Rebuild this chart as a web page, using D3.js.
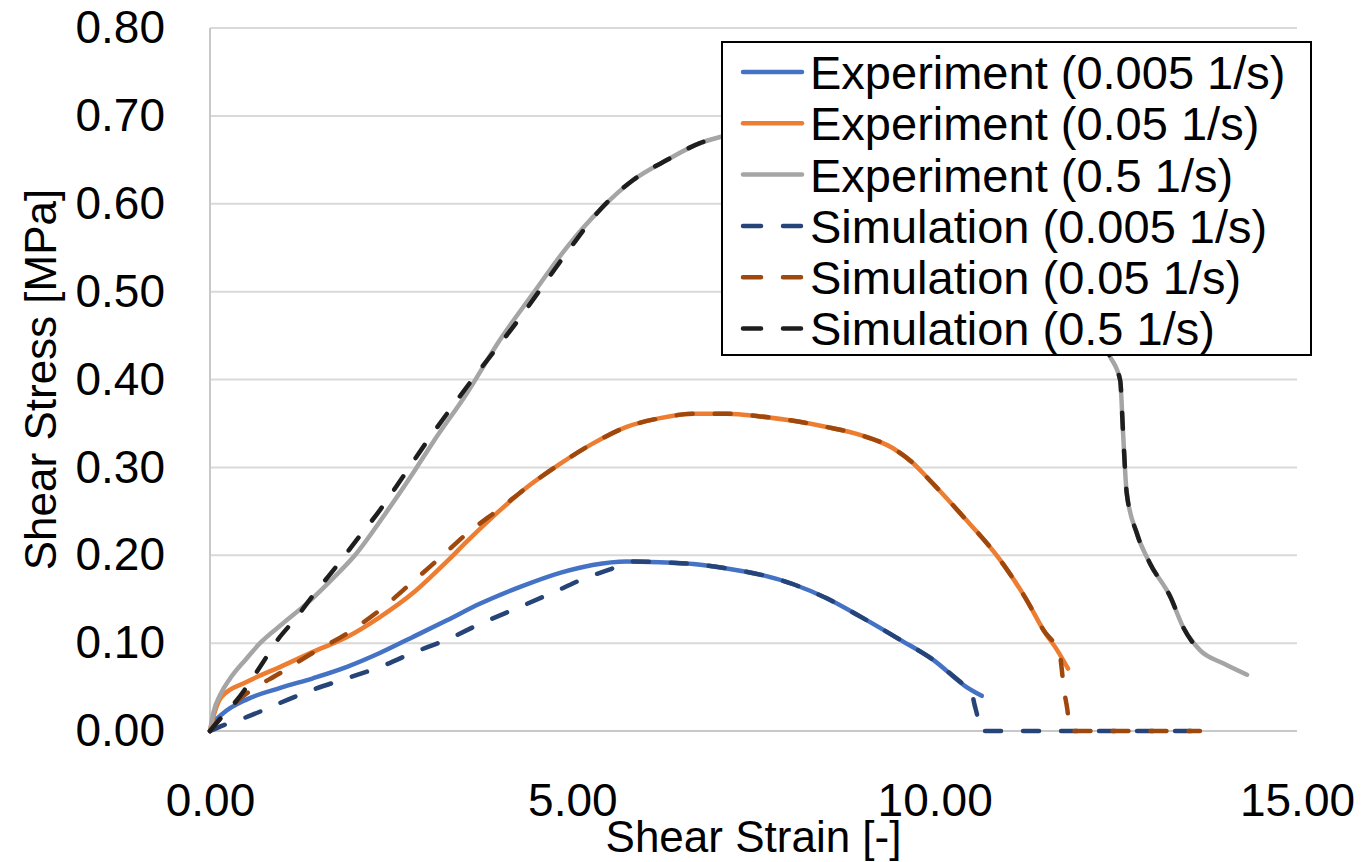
<!DOCTYPE html>
<html>
<head>
<meta charset="utf-8">
<script src="https://cdn.jsdelivr.net/npm/d3@7"></script>
<style>
    body { margin: 0; background: #fff; }
    text { font-family: "Liberation Sans", Arial, sans-serif; fill: #000; }
</style>
</head>
<body>
<div id="chart"></div>
<script>

// Data: [strain, stress]
var expSlow = [[0,0],[0.05,0.009],[0.18,0.020],[0.51,0.036],[0.97,0.049],[1.42,0.060],[1.89,0.073],[2.35,0.089],[2.80,0.107],[3.27,0.126],[3.73,0.145],[4.28,0.164],[4.83,0.180],[5.28,0.189],[5.75,0.193],[6.21,0.192],[6.67,0.190],[7.13,0.185],[7.59,0.178],[8.05,0.167],[8.51,0.151],[9.00,0.129],[9.52,0.104],[9.98,0.081],[10.44,0.050],[10.65,0.040]]
var expMid = [[0,0],[0.06,0.020],[0.16,0.039],[0.51,0.056],[0.97,0.073],[1.42,0.090],[1.89,0.107],[2.35,0.130],[2.80,0.157],[3.08,0.178],[3.27,0.193],[3.55,0.216],[4.00,0.251],[4.40,0.279],[4.83,0.304],[5.28,0.327],[5.75,0.346],[6.21,0.356],[6.67,0.361],[7.13,0.361],[7.59,0.358],[8.05,0.353],[8.51,0.346],[8.97,0.337],[9.42,0.322],[9.70,0.305],[9.89,0.289],[10.35,0.248],[10.90,0.195],[11.27,0.149],[11.50,0.115],[11.69,0.092],[11.84,0.071]]
var expFast = [[0,0],[0.05,0.022],[0.14,0.041],[0.28,0.060],[0.50,0.082],[0.69,0.100],[1.00,0.122],[1.35,0.146],[1.70,0.174],[2.00,0.200],[2.40,0.245],[2.83,0.297],[3.08,0.329],[3.55,0.385],[4.00,0.445],[4.46,0.498],[4.93,0.551],[5.38,0.593],[5.84,0.627],[6.31,0.650],[6.76,0.669],[7.04,0.676],[7.60,0.684],[8.50,0.680],[9.50,0.650],[10.50,0.600],[11.50,0.530],[12.20,0.460],[12.42,0.426],[12.56,0.399],[12.60,0.339],[12.65,0.271],[12.79,0.225],[12.97,0.191],[13.25,0.153],[13.43,0.118],[13.66,0.092],[13.98,0.077],[14.31,0.064]]
var simSlow = [[0,0],[0.20,0.007],[0.51,0.016],[0.97,0.032],[1.42,0.047],[1.89,0.060],[2.35,0.073],[2.80,0.089],[3.27,0.104],[3.73,0.122],[4.30,0.142],[4.80,0.160],[5.15,0.173],[5.52,0.184],[5.85,0.193],[6.21,0.192],[6.67,0.190],[7.13,0.185],[7.59,0.178],[8.05,0.167],[8.51,0.151],[9.00,0.129],[9.52,0.104],[9.98,0.081],[10.40,0.053],[10.50,0.047],[10.55,0.030],[10.60,0.012],[10.62,0],[13.66,0]]
var simMid = [[0,0],[0.28,0.027],[0.51,0.043],[0.97,0.066],[1.42,0.089],[1.89,0.111],[2.35,0.138],[2.80,0.170],[3.20,0.199],[3.55,0.225],[4.00,0.253],[4.40,0.279],[4.83,0.304],[5.28,0.327],[5.75,0.346],[6.21,0.356],[6.67,0.361],[7.13,0.361],[7.59,0.358],[8.05,0.353],[8.51,0.346],[8.97,0.337],[9.42,0.322],[9.70,0.305],[9.89,0.289],[10.35,0.248],[10.90,0.195],[11.27,0.149],[11.50,0.115],[11.73,0.086],[11.75,0.073],[11.78,0.050],[11.83,0.025],[11.87,0],[13.66,0]]
var simFast = [[0,0],[0.10,0.010],[0.37,0.035],[0.73,0.078],[0.90,0.100],[1.20,0.130],[1.42,0.154],[1.75,0.188],[2.03,0.218],[2.35,0.252],[2.66,0.289],[2.99,0.329],[3.35,0.370],[3.63,0.401],[4.24,0.466],[4.93,0.545],[5.38,0.593],[5.84,0.627],[6.31,0.650],[6.76,0.669],[7.04,0.676],[7.60,0.684],[8.50,0.680],[9.50,0.650],[10.50,0.600],[11.50,0.530],[12.20,0.460],[12.42,0.426],[12.56,0.399],[12.60,0.339],[12.65,0.271],[12.79,0.225],[12.97,0.191],[13.25,0.153],[13.43,0.118],[13.62,0.094]]

var seriesNames = ["Experiment (0.005 1/s)", "Experiment (0.05 1/s)", "Experiment (0.5 1/s)",
                   "Simulation (0.005 1/s)", "Simulation (0.05 1/s)", "Simulation (0.5 1/s)"]
var xTicks = [0, 5, 10, 15]
var yTicks = [0, 0.1, 0.2, 0.3, 0.4, 0.5, 0.6, 0.7, 0.8]

function drawChart() {

    const width = 1365
    const height = 862
    const left = 210, right = 1297, top = 28, bottom = 731

    var svg = d3.select("#chart")
        .append("svg")
        .attr("width", width)
        .attr("height", height)

    var x = d3.scaleLinear().domain([0, 15]).range([left, right])
    var y = d3.scaleLinear().domain([0, 0.8]).range([bottom, top])

    // gridlines
    svg.append("g")
        .selectAll("line")
        .data(yTicks.slice(1))
        .enter()
        .append("line")
        .attr("x1", left)
        .attr("x2", right)
        .attr("y1", d => y(d))
        .attr("y2", d => y(d))
        .attr("stroke", "#d9d9d9")
        .attr("stroke-width", 2)

    // axes lines
    svg.append("line")
        .attr("x1", left).attr("x2", left)
        .attr("y1", top).attr("y2", bottom)
        .attr("stroke", "#c8c8c8").attr("stroke-width", 2)
    svg.append("line")
        .attr("x1", left).attr("x2", right)
        .attr("y1", bottom).attr("y2", bottom)
        .attr("stroke", "#c8c8c8").attr("stroke-width", 2)

    // y tick labels
    var yAxis = d3.axisLeft(y).tickValues(yTicks).tickFormat(d3.format(".2f")).tickSize(0).tickPadding(45)
    var gy = svg.append("g")
        .attr("transform", "translate(" + left + ",0)")
        .call(yAxis)
    gy.select(".domain").remove()
    gy.selectAll("text")
        .attr("font-size", 46)
        .attr("font-family", "Liberation Sans, Arial, sans-serif")
        .attr("fill", "#000")

    // x tick labels
    var xAxis = d3.axisBottom(x).tickValues(xTicks).tickFormat(d3.format(".2f")).tickSize(0).tickPadding(52)
    var gx = svg.append("g")
        .attr("transform", "translate(0," + bottom + ")")
        .call(xAxis)
    gx.select(".domain").remove()
    gx.selectAll("text")
        .attr("font-size", 46)
        .attr("font-family", "Liberation Sans, Arial, sans-serif")
        .attr("fill", "#000")

    // series lines
    var line = d3.line()
        .x(d => x(d[0]))
        .y(d => y(d[1]))
        .curve(d3.curveMonotoneX)

    var series = [
        { data: expSlow, color: "#4472C4", dash: null },
        { data: expMid, color: "#ED7D31", dash: null },
        { data: expFast, color: "#A5A5A5", dash: null },
        { data: simSlow, color: "#264478", dash: "16 22" },
        { data: simMid, color: "#9E480E", dash: "16 22" },
        { data: simFast, color: "#1e1e1e", dash: "16 22" }
    ]

    series.forEach(function (s) {
        svg.append("path")
            .datum(s.data)
            .attr("d", line)
            .attr("fill", "none")
            .attr("stroke", s.color)
            .attr("stroke-width", 4.5)
            .attr("stroke-linecap", "round")
            .attr("stroke-linejoin", "round")
            .attr("stroke-dasharray", s.dash)
    })

    // Legend
    var lg = svg.append("g").attr("transform", "translate(722,42)")
    lg.append("rect")
        .attr("width", 589)
        .attr("height", 313)
        .attr("fill", "#fff")
        .attr("stroke", "#000")
        .attr("stroke-width", 2)

    series.forEach(function (s, i) {
        var cy = 30 + i * 51.3
        lg.append("line")
            .attr("x1", 21).attr("x2", 80)
            .attr("y1", cy).attr("y2", cy)
            .attr("stroke", s.color)
            .attr("stroke-width", 4.5)
            .attr("stroke-linecap", "round")
            .attr("stroke-dasharray", s.dash ? "18 22" : null)
        lg.append("text")
            .attr("x", 88)
            .attr("y", cy)
            .attr("dy", "0.36em")
            .attr("font-size", 47)
            .text(seriesNames[i])
    })

    // Axis titles
    svg.append("text")
        .attr("x", (left + right) / 2)
        .attr("y", 852)
        .attr("text-anchor", "middle")
        .attr("font-size", 44)
        .text("Shear Strain [-]")

    svg.append("text")
        .attr("transform", "translate(56," + (top + bottom) / 2 + ") rotate(-90)")
        .attr("text-anchor", "middle")
        .attr("font-size", 44)
        .text("Shear Stress [MPa]")
}

drawChart()
</script>
</body>
</html>
